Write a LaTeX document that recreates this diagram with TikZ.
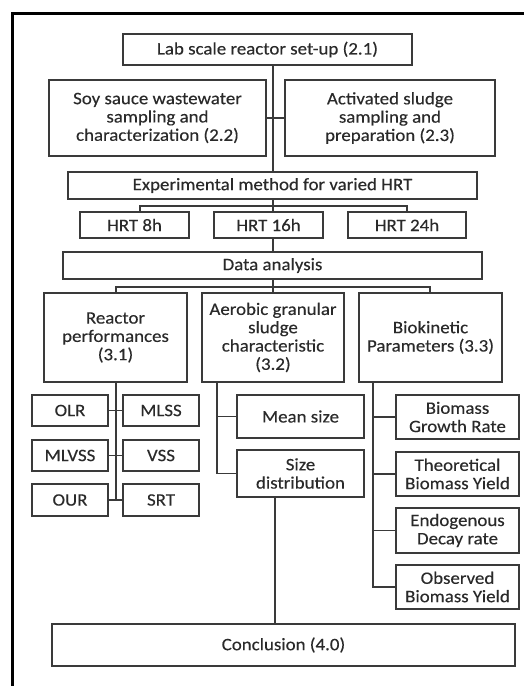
\documentclass[tikz,border=0pt]{standalone}
\usepackage{fontspec}
\setmainfont[FakeStretch=1.08,FakeBold=0.3]{Carlito}
\definecolor{ln}{HTML}{3A3A3A}
\definecolor{tx}{HTML}{2A2A2A}
\begin{document}
\begin{tikzpicture}[x=1pt,y=-1pt,
  bx/.style={draw=ln,line width=1.3pt,rectangle,inner sep=0pt,align=center,text=tx,
    font=\fontsize{17.5}{18.3}\selectfont},
  cn/.style={draw=ln,line width=1.4pt}]
\useasboundingbox (0,0) rectangle (523,686);
\draw[black,line width=3pt] (12,686) -- (12,13) -- (524,13);
% boxes
\node[bx,minimum width=289pt,minimum height=31pt] (b1) at (267.5,49.5) {Lab scale reactor set-up (2.1)};
\node[bx,minimum width=217pt,minimum height=76pt] (soy) at (157.5,118) {Soy sauce wastewater\\sampling and\\characterization (2.2)};
\node[bx,minimum width=210pt,minimum height=76pt] (act) at (390,118) {Activated sludge\\sampling and\\preparation (2.3)};
\node[bx,minimum width=409pt,minimum height=27pt] (exp) at (272.5,185.5) {Experimental method for varied HRT};
\node[bx,minimum width=109pt,minimum height=26pt] (h8) at (134.5,225) {HRT 8h};
\node[bx,minimum width=109pt,minimum height=26pt] (h16) at (268.5,225) {HRT 16h};
\node[bx,minimum width=118pt,minimum height=26pt] (h24) at (407,225) {HRT 24h};
\node[bx,minimum width=419pt,minimum height=27pt] (da) at (272.5,265.5) {Data analysis};
\node[bx,minimum width=143pt,minimum height=89pt] (rp) at (115.5,337.5) {Reactor\\performances\\(3.1)};
\node[bx,minimum width=142pt,minimum height=89pt] (ag) at (273,337.5) {Aerobic granular\\sludge\\characteristic\\(3.2)};
\node[bx,minimum width=143pt,minimum height=89pt] (bk) at (430.5,337.5) {Biokinetic\\Parameters (3.3)};
\node[bx,minimum width=76pt,minimum height=31pt] (olr) at (70,410.5) {OLR};
\node[bx,minimum width=76pt,minimum height=31pt] (mlss) at (161,410.5) {MLSS};
\node[bx,minimum width=76pt,minimum height=31pt] (mlvss) at (70,455.5) {MLVSS};
\node[bx,minimum width=76pt,minimum height=31pt] (vss) at (161,455.5) {VSS};
\node[bx,minimum width=76pt,minimum height=32pt] (our) at (70,500) {OUR};
\node[bx,minimum width=76pt,minimum height=32pt] (srt) at (161,500) {SRT};
\node[bx,minimum width=127pt,minimum height=43pt] (mean) at (300.5,416.5) {Mean size};
\node[bx,minimum width=127pt,minimum height=47pt] (sd) at (300.5,473.5) {Size\\distribution};
\node[bx,minimum width=123pt,minimum height=44pt] (bgr) at (457.5,417) {Biomass\\Growth Rate};
\node[bx,minimum width=123pt,minimum height=44pt] (tby) at (457.5,474) {Theoretical\\Biomass Yield};
\node[bx,minimum width=123pt,minimum height=45pt] (edr) at (457.5,530.5) {Endogenous\\Decay rate};
\node[bx,minimum width=123pt,minimum height=44pt] (oby) at (457.5,587) {Observed\\Biomass Yield};
\node[bx,minimum width=463pt,minimum height=42pt] (conc) at (283.5,645) {Conclusion (4.0)};
% connectors
\coordinate (t1) at (273,118);
\draw[cn] (b1.south -| t1) -- (exp.north -| t1);
\draw[cn] (soy.east |- t1) -- (act.west |- t1);
\coordinate (t2) at (273,206);
\draw[cn] (exp.south -| t2) -- (t2);
\draw[cn] (h8.north -| 140,0) -- (140,206) -- (407,206) -- (h24.north -| 407,0);
\draw[cn] (t2) -- (h16.north -| t2);
\draw[cn] (h16.south -| t2) -- (da.north -| t2);
\coordinate (t3) at (273,287);
\draw[cn] (da.south -| t3) -- (t3);
\draw[cn] (rp.north -| 116,0) -- (116,287) -- (430,287) -- (bk.north -| 430,0);
\draw[cn] (t3) -- (ag.north -| t3);
% reactor performance branch
\coordinate (r1) at (116,500);
\draw[cn] (rp.south -| r1) -- (r1);
\draw[cn] (olr.east) -- (mlss.west);
\draw[cn] (mlvss.east) -- (vss.west);
\draw[cn] (our.east) -- (srt.west);
% aerobic branch
\coordinate (a1) at (217,473.5);
\draw[cn] (ag.south -| a1) -- (a1) -- (sd.west);
\draw[cn] (mean.west -| a1) -- (mean.west);
\draw[cn] (sd.south -| 275,0) -- (conc.north -| 275,0);
% biokinetic branch
\coordinate (k1) at (373,587);
\draw[cn] (bk.south -| k1) -- (k1) -- (oby.west);
\draw[cn] (bgr.west -| k1) -- (bgr.west);
\draw[cn] (tby.west -| k1) -- (tby.west);
\draw[cn] (edr.west -| k1) -- (edr.west);
\end{tikzpicture}
\end{document}
